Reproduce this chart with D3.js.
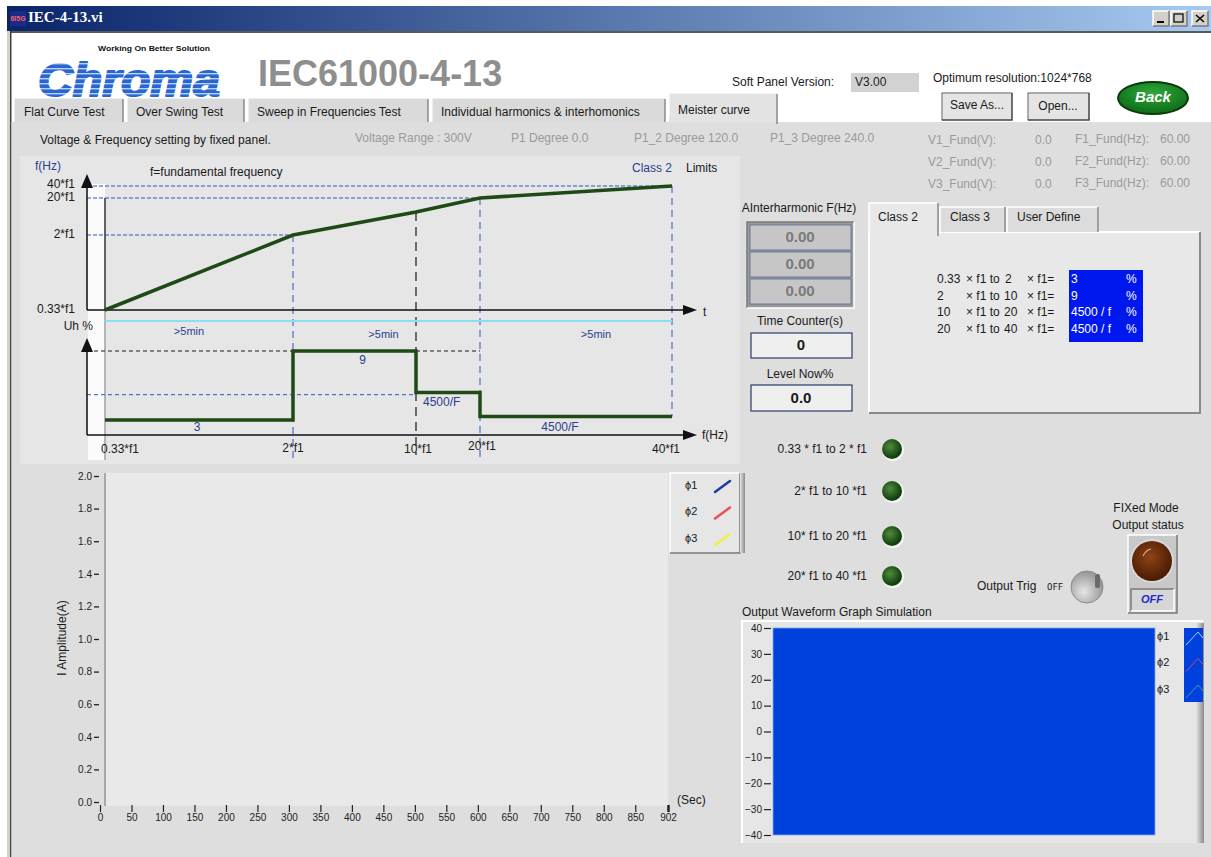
<!DOCTYPE html>
<html><head><meta charset="utf-8">
<script src="https://cdn.jsdelivr.net/npm/d3@7/dist/d3.min.js"></script>
<style>
body{margin:0;background:#fff;overflow:hidden}
svg{display:block;font-family:"Liberation Sans",Arial,sans-serif}
</style></head><body>
<svg id="c" width="1211" height="857"></svg>
<script>
// ---------------- data ----------------
const freqMultiples = [0.33, 2, 10, 20, 40];
const freqLabels = ["0.33*f1", "2*f1", "10*f1", "20*f1", "40*f1"];
const sweepCurve = [0.33, 2, 10, 20, 40];               // f reached at each breakpoint
const uhLevels = [3, 9, 5.4, 3.3];                      // Uh % per band (schematic)
const uhLabels = ["3", "9", "4500/F", "4500/F"];
const uhRefLevel = 5.2;                                 // blue dashed reference
const durationLabels = [">5min", ">5min", ">5min"];
const mainTabs = ["Flat Curve Test", "Over Swing Test", "Sweep in Frequencies Test", "Individual harmonics & interhomonics", "Meister curve"];
const classTabs = ["Class 2", "Class 3", "User Define"];
const classFrom = ["0.33", "2", "10", "20"];
const classTo = ["2", "10", "20", "40"];
const classValues = ["3", "9", "4500 / f", "4500 / f"];
const ledLabels = ["0.33 * f1 to 2 * f1", "2* f1 to 10 *f1", "10* f1 to 20 *f1", "20* f1 to 40 *f1"];
const interharmonic = ["0.00", "0.00", "0.00"];
const statusTop = ["Voltage Range : 300V", "P1 Degree  0.0", "P1_2 Degree 120.0", "P1_3 Degree 240.0"];
const fundV = [["V1_Fund(V):", "0.0"], ["V2_Fund(V):", "0.0"], ["V3_Fund(V):", "0.0"]];
const fundF = [["F1_Fund(Hz):", "60.00"], ["F2_Fund(Hz):", "60.00"], ["F3_Fund(Hz):", "60.00"]];
const ampTicks = [0, 0.2, 0.4, 0.6, 0.8, 1.0, 1.2, 1.4, 1.6, 1.8, 2.0];
const secTicks = [0, 50, 100, 150, 200, 250, 300, 350, 400, 450, 500, 550, 600, 650, 700, 750, 800, 850, 902];
const waveTicks = [-40, -30, -20, -10, 0, 10, 20, 30, 40];
const phaseNames = ["ϕ1", "ϕ2", "ϕ3"];
const phaseColors = ["#1c3c9c", "#e8505a", "#f2f040"];
const waveColors = ["#9fd8ff", "#c04a8a", "#2aa8a0"];

// ---------------- setup ----------------
const svg = d3.select("#c");
const defs = svg.append("defs");
const FONT = '"Liberation Sans",Arial,sans-serif';

function txt(g, x, y, s, o = {}) {
  return g.append("text").attr("x", x).attr("y", y).text(s)
    .attr("font-size", o.size || 12).attr("fill", o.fill || "#1a1a1a")
    .attr("text-anchor", o.anchor || "start")
    .attr("dominant-baseline", o.base || "middle")
    .attr("font-weight", o.weight || "normal")
    .attr("font-style", o.style || "normal")
    .attr("font-family", o.family || FONT);
}
function bevel(g, x, y, w, h, raised, fill) {
  g.append("rect").attr("x", x).attr("y", y).attr("width", w).attr("height", h).attr("fill", fill);
  const lt = raised ? "#ffffff" : "#7a7a7a", dk = raised ? "#7a7a7a" : "#ffffff";
  g.append("path").attr("d", `M${x},${y + h}V${y}H${x + w}`).attr("stroke", lt).attr("fill", "none").attr("stroke-width", 1.5);
  g.append("path").attr("d", `M${x + w},${y}V${y + h}H${x}`).attr("stroke", dk).attr("fill", "none").attr("stroke-width", 1.5);
}

// gradients
const tg = defs.append("linearGradient").attr("id", "titleg");
tg.append("stop").attr("offset", "0%").attr("stop-color", "#0a246a");
tg.append("stop").attr("offset", "100%").attr("stop-color", "#a6caf0");
const ledg = defs.append("radialGradient").attr("id", "ledg").attr("cx", "40%").attr("cy", "38%").attr("r", "60%");
ledg.append("stop").attr("offset", "0%").attr("stop-color", "#4f8c3c");
ledg.append("stop").attr("offset", "100%").attr("stop-color", "#0e3a0c");
const knobg = defs.append("radialGradient").attr("id", "knobg").attr("cx", "45%").attr("cy", "40%").attr("r", "60%");
knobg.append("stop").attr("offset", "0%").attr("stop-color", "#8c4416");
knobg.append("stop").attr("offset", "100%").attr("stop-color", "#4a1a04");
const backg = defs.append("radialGradient").attr("id", "backg").attr("cx", "50%").attr("cy", "35%").attr("r", "65%");
backg.append("stop").attr("offset", "0%").attr("stop-color", "#2fa83a");
backg.append("stop").attr("offset", "100%").attr("stop-color", "#0d6a18");
const tog = defs.append("radialGradient").attr("id", "tog").attr("cx", "40%").attr("cy", "65%").attr("r", "60%");
tog.append("stop").attr("offset", "0%").attr("stop-color", "#e6e6e6");
tog.append("stop").attr("offset", "100%").attr("stop-color", "#9a9a9a");
const stripe = defs.append("pattern").attr("id", "stripe").attr("patternUnits", "userSpaceOnUse").attr("width", 10).attr("height", 5);
stripe.append("rect").attr("width", 10).attr("height", 5).attr("fill", "#2a66d0");
stripe.append("rect").attr("y", 3).attr("width", 10).attr("height", 1.4).attr("fill", "#b8d2f6");
const shadeR = defs.append("linearGradient").attr("id", "shadeR");
shadeR.append("stop").attr("offset", "0%").attr("stop-color", "#e6e6e6");
shadeR.append("stop").attr("offset", "100%").attr("stop-color", "#8a8a8a");

// ---------------- window chrome ----------------
svg.append("rect").attr("x", 0).attr("y", 0).attr("width", 1211).attr("height", 857).attr("fill", "#ffffff");
svg.append("rect").attr("x", 7).attr("y", 6).attr("width", 1204).attr("height", 25).attr("fill", "url(#titleg)");
const ico = svg.append("g");
ico.append("rect").attr("x", 10).attr("y", 11).attr("width", 16).attr("height", 15).attr("fill", "#1c2a8a");
txt(ico, 18, 19, "6I5G", { size: 7, fill: "#ff6060", anchor: "middle", weight: "bold" });
txt(svg, 28, 19, "IEC-4-13.vi", { size: 15, fill: "#ffffff", weight: "bold", family: '"Liberation Serif","DejaVu Serif",serif' });
["min", "max", "close"].forEach((k, i) => {
  const bx = 1153 + i * 18 + (i === 2 ? 3 : 0);
  bevel(svg, bx, 11, 16, 15, true, "#d4d0c8");
  if (k === "min") svg.append("rect").attr("x", bx + 4).attr("y", 21).attr("width", 7).attr("height", 2).attr("fill", "#000");
  if (k === "max") svg.append("rect").attr("x", bx + 3).attr("y", 14).attr("width", 9).attr("height", 8).attr("fill", "none").attr("stroke", "#000").attr("stroke-width", 1.2);
  if (k === "close") svg.append("path").attr("d", `M${bx + 4},${15}L${bx + 12},${22}M${bx + 12},${15}L${bx + 4},${22}`).attr("stroke", "#000").attr("stroke-width", 1.5);
});
svg.append("rect").attr("x", 7).attr("y", 31).attr("width", 1204).attr("height", 2).attr("fill", "#5a5a5a");
svg.append("rect").attr("x", 7).attr("y", 31).attr("width", 4).attr("height", 826).attr("fill", "#d4d0c8");
svg.append("rect").attr("x", 10).attr("y", 31).attr("width", 1.5).attr("height", 826).attr("fill", "#404040");

// ---------------- header ----------------
const hdr = svg.append("g");
txt(hdr, 38, 95.5, "Chroma", { size: 46, weight: "bold", style: "italic", fill: "url(#stripe)", base: "alphabetic", family: '"Liberation Sans",Arial,sans-serif' })
  .attr("textLength", 182).attr("lengthAdjust", "spacingAndGlyphs")
  .attr("stroke", "url(#stripe)").attr("stroke-width", 2).attr("stroke-linejoin", "round");
txt(hdr, 98, 49, "Working On Better Solution", { size: 8, weight: "bold", fill: "#111" })
  .attr("textLength", 112).attr("lengthAdjust", "spacingAndGlyphs");
txt(hdr, 258, 76, "IEC61000-4-13", { size: 36, weight: "bold", fill: "#8e8e8e" });
txt(hdr, 732, 83, "Soft Panel Version:", { size: 12 });
hdr.append("rect").attr("x", 851).attr("y", 73).attr("width", 68).attr("height", 19).attr("fill", "#d2d2d2");
txt(hdr, 855, 83, "V3.00", { size: 12 });
txt(hdr, 933, 79, "Optimum resolution:1024*768", { size: 12 });
bevel(hdr, 942, 93, 70, 27, true, "#e4e4e4");
hdr.append("rect").attr("x", 942).attr("y", 93).attr("width", 70).attr("height", 27).attr("fill", "none").attr("stroke", "#333").attr("stroke-width", 0.8);
txt(hdr, 977, 106, "Save As...", { size: 12, anchor: "middle" });
bevel(hdr, 1028, 93, 61, 27, true, "#e4e4e4");
hdr.append("rect").attr("x", 1028).attr("y", 93).attr("width", 61).attr("height", 27).attr("fill", "none").attr("stroke", "#333").attr("stroke-width", 0.8);
txt(hdr, 1058, 107, "Open...", { size: 12, anchor: "middle" });
hdr.append("ellipse").attr("cx", 1153).attr("cy", 98).attr("rx", 35).attr("ry", 16).attr("fill", "url(#backg)").attr("stroke", "#0a3a0a").attr("stroke-width", 2);
txt(hdr, 1153, 98, "Back", { size: 15, weight: "bold", style: "italic", fill: "#ffffff", anchor: "middle" });

// ---------------- main panel ----------------
svg.append("rect").attr("x", 11.5).attr("y", 122).attr("width", 1200).attr("height", 735).attr("fill", "#dedede");

// tabs
const tabX = [14, 127, 248, 432, 669, 777];
mainTabs.forEach((t, i) => {
  const active = i === mainTabs.length - 1;
  const x0 = tabX[i], x1 = tabX[i + 1] - (active ? 0 : 4);
  const y0 = active ? 93 : 98;
  svg.append("rect").attr("x", x0).attr("y", y0).attr("width", x1 - x0).attr("height", (active ? 30 : 24)).attr("fill", active ? "#e3e3e3" : "#dadada");
  svg.append("path").attr("d", `M${x0},${y0 + 24}V${y0}H${x1}`).attr("stroke", "#ffffff").attr("fill", "none");
  svg.append("path").attr("d", `M${x1},${y0 + 1}V${active ? 124 : 122}`).attr("stroke", "#8a8a8a").attr("fill", "none").attr("stroke-width", 1.5);
  txt(svg, x0 + (i === 0 ? 10 : 9), (active ? 111 : 112.5), t, { size: 12 });
});

// status line
txt(svg, 40, 141, "Voltage & Frequency setting by fixed panel.", { size: 12 });
const stX = [355, 511, 634, 770];
statusTop.forEach((s, i) => txt(svg, stX[i], 139, s, { size: 12, fill: "#9a9a9a" }));
fundV.forEach((r, i) => {
  txt(svg, 928, 141 + i * 22, r[0], { size: 12, fill: "#9a9a9a" });
  txt(svg, 1035, 141 + i * 22, r[1], { size: 12, fill: "#9a9a9a" });
});
fundF.forEach((r, i) => {
  txt(svg, 1075, 140 + i * 22, r[0], { size: 12, fill: "#9a9a9a" });
  txt(svg, 1160, 140 + i * 22, r[1], { size: 12, fill: "#9a9a9a" });
});

// ---------------- Meister curve diagram ----------------
const dg = svg.append("g");
dg.append("rect").attr("x", 20).attr("y", 156).attr("width", 720).attr("height", 308).attr("fill", "#e6e6e6");
const x = d3.scaleLinear().domain(freqMultiples).range([105, 293, 416, 480, 672]);
const yF = d3.scaleLinear().domain(freqMultiples).range([310, 235, 212, 198, 186]);
const yU = d3.scaleLinear().domain([0, 9]).range([454.5, 351]);
const axX = 87, tAxisY = yF(0.33), fAxisY = 435;

dg.append("rect").attr("x", axX + 1).attr("y", 184).attr("width", x(0.33) - axX - 1).attr("height", 276).attr("fill", "#fbfbfb");

const blueDash = "#2a56c0", blackDash = "#1a1a1a";
function hline(y, x0, x1, c, dash) { dg.append("line").attr("x1", x0).attr("x2", x1).attr("y1", y).attr("y2", y).attr("stroke", c).attr("stroke-width", 1).attr("stroke-dasharray", dash); }
function vline(xx, y0, y1, c, dash, w) { dg.append("line").attr("x1", xx).attr("x2", xx).attr("y1", y0).attr("y2", y1).attr("stroke", c).attr("stroke-width", w || 1).attr("stroke-dasharray", dash); }

// reference lines (top)
hline(yF(40), axX, x(40), blueDash, "4,2");
hline(yF(20), axX, x(20), blueDash, "4,2");
hline(yF(2), axX, x(2), blueDash, "4,2");
// vertical refs
vline(x(0.33), yF(20), tAxisY, "#333", null, 1.5);
vline(x(0.33), tAxisY, 460, "#a0a0a0", null, 1.5);
vline(x(2), yF(2), 460, blueDash, "7,5");
vline(x(10), yF(10), 455, blackDash, "9,6", 1.2);
vline(x(20), yF(20), 460, blueDash, "7,5");
vline(x(40), yF(40), yU(uhLevels[3]), blueDash, "7,5");

// cyan duration line
dg.append("line").attr("x1", x(0.33)).attr("x2", x(40)).attr("y1", 321).attr("y2", 321).attr("stroke", "#86e2f0").attr("stroke-width", 1.8);
const segEdges = [0.33, 2, 20, 40];
durationLabels.forEach((s, i) => {
  const cx = (x(segEdges[i]) + x(segEdges[i + 1])) / 2 + [-10, -3, 20][i];
  txt(dg, cx, 332 + (i ? 3 : 0), s, { size: 11, fill: "#2b3f8f", anchor: "middle" });
});

// lower reference lines
hline(yU(9), axX, x(2), blackDash, "4,3");
hline(yU(9), x(10), x(20), blackDash, "4,3");
hline(yU(uhRefLevel), axX, x(10), blueDash, "4,3");

// axes
function arrowUp(xx, ytip) { dg.append("path").attr("d", `M${xx},${ytip}L${xx - 6},${ytip + 14}L${xx + 6},${ytip + 14}Z`).attr("fill", "#111"); }
function arrowRight(xtip, yy) { dg.append("path").attr("d", `M${xtip},${yy}L${xtip - 14},${yy - 5}L${xtip - 14},${yy + 5}Z`).attr("fill", "#111"); }
dg.append("line").attr("x1", axX).attr("x2", axX).attr("y1", 176).attr("y2", tAxisY).attr("stroke", "#111").attr("stroke-width", 1.5);
dg.append("line").attr("x1", axX).attr("x2", 690).attr("y1", tAxisY).attr("y2", tAxisY).attr("stroke", "#111").attr("stroke-width", 1.5);
arrowUp(axX, 174); arrowRight(697, tAxisY);
dg.append("line").attr("x1", axX).attr("x2", axX).attr("y1", 340).attr("y2", fAxisY).attr("stroke", "#111").attr("stroke-width", 1.5);
dg.append("line").attr("x1", axX).attr("x2", 690).attr("y1", fAxisY).attr("y2", fAxisY).attr("stroke", "#111").attr("stroke-width", 1.5);
arrowUp(axX, 338); arrowRight(697, fAxisY);

// curves
dg.append("path").datum(sweepCurve)
  .attr("d", d3.line().x(f => x(f)).y(f => yF(f)))
  .attr("fill", "none").attr("stroke", "#1f4a15").attr("stroke-width", 3.5);
const stepPts = [];
uhLevels.forEach((v, i) => { stepPts.push([x(freqMultiples[i]), yU(v)]); stepPts.push([x(freqMultiples[i + 1]), yU(v)]); });
dg.append("path").datum(stepPts).attr("d", d3.line()).attr("fill", "none").attr("stroke", "#1f4a15").attr("stroke-width", 3.5);

// labels
txt(dg, 35, 167, "f(Hz)", { size: 12, fill: "#2b3f8f" });
txt(dg, 150, 173, "f=fundamental frequency", { size: 12 });
txt(dg, 672, 169, "Class 2", { size: 12, fill: "#2b3f8f", anchor: "end" });
txt(dg, 686, 169, "Limits", { size: 12 });
[40, 20, 2, 0.33].forEach(f => {
  const i = freqMultiples.indexOf(f);
  txt(dg, 75, yF(f) + (f === 40 ? -1 : 0), freqLabels[i], { size: 12, anchor: "end" });
});
txt(dg, 703, 313, "t", { size: 12 });
txt(dg, 93, 327, "Uh %", { size: 12, anchor: "end" });
txt(dg, 702, 436, "f(Hz)", { size: 12 });
freqMultiples.forEach((f, i) => {
  const off = [15, 0, 2, 2, -6][i], dy = [0, -1, 0, -3, 0][i];
  txt(dg, x(f) + off, 450 + dy, freqLabels[i], { size: 12, anchor: "middle" });
});
// band labels
const bandLabelPos = [
  [(x(0.33) + x(2)) / 2 - 2, 428, "middle"],
  [(x(2) + x(10)) / 2 + 8, 361, "middle"],
  [x(10) + 7, 403, "start"],
  [(x(20) + x(40)) / 2 - 16, 428, "middle"]
];
uhLabels.forEach((s, i) => txt(dg, bandLabelPos[i][0], bandLabelPos[i][1], s, { size: 12, fill: "#2b3f8f", anchor: bandLabelPos[i][2] }));

// ---------------- interharmonic indicators ----------------
const ih = svg.append("g");
txt(ih, 799, 209, "AInterharmonic F(Hz)", { size: 12, anchor: "middle" });
bevel(ih, 747, 222, 107, 86, false, "#9a9a9a");
interharmonic.forEach((v, i) => {
  ih.append("rect").attr("x", 750).attr("y", 225 + i * 27).attr("width", 101).attr("height", 25).attr("fill", "#c6c6c6").attr("stroke", "#5a6a9a").attr("stroke-width", 0.8);
  txt(ih, 800, 238 + i * 27, v, { size: 15, weight: "bold", fill: "#7a7a7a", anchor: "middle" });
});
txt(ih, 800, 322, "Time Counter(s)", { size: 12, anchor: "middle" });
ih.append("rect").attr("x", 751).attr("y", 333).attr("width", 101).attr("height", 25).attr("fill", "#efefef").attr("stroke", "#2a3a6a").attr("stroke-width", 1.2);
txt(ih, 801, 346, "0", { size: 15, weight: "bold", anchor: "middle" });
txt(ih, 800, 375, "Level  Now%", { size: 12, anchor: "middle" });
ih.append("rect").attr("x", 751).attr("y", 385).attr("width", 101).attr("height", 26).attr("fill", "#efefef").attr("stroke", "#2a3a6a").attr("stroke-width", 1.2);
txt(ih, 801, 399, "0.0", { size: 15, weight: "bold", anchor: "middle" });

// ---------------- class tab control ----------------
const tc = svg.append("g");
tc.append("rect").attr("x", 869).attr("y", 232).attr("width", 331).attr("height", 181).attr("fill", "#e8e8e8");
tc.append("path").attr("d", "M869,413V232H1200").attr("stroke", "#ffffff").attr("stroke-width", 2).attr("fill", "none");
tc.append("path").attr("d", "M1200,232V413H869").attr("stroke", "#8a8a8a").attr("stroke-width", 2).attr("fill", "none");
const ctX = [869, 940, 1007, 1100];
classTabs.forEach((t, i) => {
  const x0 = ctX[i], x1 = ctX[i + 1] - 2, y0 = i === 0 ? 203 : 207;
  tc.append("rect").attr("x", x0).attr("y", y0).attr("width", x1 - x0).attr("height", i === 0 ? 31 : 25).attr("fill", i === 0 ? "#e8e8e8" : "#dcdcdc");
  tc.append("path").attr("d", `M${x0},${i === 0 ? 234 : 232}V${y0}H${x1}`).attr("stroke", "#fff").attr("fill", "none").attr("stroke-width", 1.5);
  tc.append("path").attr("d", `M${x1},${y0}V${i === 0 ? 236 : 232}`).attr("stroke", "#8a8a8a").attr("fill", "none").attr("stroke-width", 1.5);
  txt(tc, x0 + (i === 0 ? 9 : 10), 218, t, { size: 12 });
});
tc.append("rect").attr("x", 1069).attr("y", 270).attr("width", 74).attr("height", 72).attr("fill", "#0018f0");
classFrom.forEach((f, i) => {
  const yy = 280 + i * 16.5;
  txt(tc, 937, yy, f, { size: 12 });
  txt(tc, 966, yy, "× f1 to", { size: 12 });
  txt(tc, i === 0 ? 1005 : 1004, yy, classTo[i], { size: 12 });
  txt(tc, 1027, yy, "× f1=", { size: 12 });
  txt(tc, 1071, yy, classValues[i], { size: 12, fill: "#ffffff" });
  txt(tc, 1126, yy, "%", { size: 12, fill: "#ffffff" });
});

// ---------------- LEDs ----------------
const ledY = [449, 491, 536, 576];
ledLabels.forEach((s, i) => {
  txt(svg, 867, ledY[i] + 1, s, { size: 12, anchor: "end" });
  svg.append("circle").attr("cx", 893).attr("cy", ledY[i] + 1).attr("r", 11).attr("fill", "#f4f4f4");
  svg.append("circle").attr("cx", 892).attr("cy", ledY[i]).attr("r", 10).attr("fill", "url(#ledg)");
});

// ---------------- output status / trig ----------------
txt(svg, 1146, 509, "FIXed Mode", { size: 12, anchor: "middle" });
txt(svg, 1148, 526, "Output status", { size: 12, anchor: "middle" });
bevel(svg, 1128, 535, 49, 78, true, "#c8c8c8");
svg.append("circle").attr("cx", 1152).attr("cy", 561).attr("r", 22).attr("fill", "#d8d8d8");
svg.append("circle").attr("cx", 1152).attr("cy", 561).attr("r", 20).attr("fill", "url(#knobg)");
svg.append("path").attr("d", "M1143,556Q1146,550 1151,549").attr("stroke", "#e0b080").attr("stroke-width", 1.2).attr("fill", "none");
bevel(svg, 1131, 589, 43, 22, false, "#d6d6d6");
txt(svg, 1152, 600, "OFF", { size: 11, weight: "bold", style: "italic", fill: "#1a2ad0", anchor: "middle" });
txt(svg, 977, 587, "Output Trig", { size: 12 });
txt(svg, 1047, 587, "OFF", { size: 9, family: '"DejaVu Sans Mono",monospace' });
svg.append("circle").attr("cx", 1087).attr("cy", 587).attr("r", 16).attr("fill", "url(#tog)").attr("stroke", "#8a8a8a").attr("stroke-width", 1);
svg.append("rect").attr("x", 1095).attr("y", 574).attr("width", 5).attr("height", 14).attr("rx", 2).attr("fill", "#6a6a6a");

// ---------------- current amplitude chart ----------------
const ac = svg.append("g");
const ax = d3.scaleLinear().domain([0, 902]).range([100, 668]);
const ay = d3.scaleLinear().domain([0, 2]).range([802, 476]);
ac.append("rect").attr("x", 105).attr("y", 473).attr("width", 563).attr("height", 333).attr("fill", "#e9e9e9");
ac.append("line").attr("x1", 105).attr("x2", 105).attr("y1", 473).attr("y2", 806).attr("stroke", "#a8a8a8").attr("stroke-width", 2);
const yAx = ac.append("g").attr("transform", "translate(100,0)")
  .call(d3.axisLeft(ay).tickValues(ampTicks).tickFormat(d3.format(".1f")).tickSize(6).tickPadding(2));
yAx.select(".domain").remove();
yAx.selectAll(".tick line").attr("stroke", "#222").attr("stroke-width", 1.3).attr("x1", -1);
yAx.selectAll("text").attr("font-size", 10).attr("fill", "#222").attr("font-family", FONT);
const xAx = ac.append("g").attr("transform", "translate(0,805)")
  .call(d3.axisBottom(ax).tickValues(secTicks).tickFormat(d3.format("d")).tickSize(7).tickPadding(2));
xAx.select(".domain").remove();
xAx.selectAll(".tick line").attr("stroke", "#222").attr("stroke-width", 1.2);
xAx.selectAll("text").attr("font-size", 10).attr("fill", "#222").attr("font-family", FONT);
xAx.selectAll(".tick").filter(d => d === 902).select("line").attr("stroke-width", 2.5);
txt(ac, 677, 801, "(Sec)", { size: 12 });
txt(ac, 0, 0, "I  Amplitude(A)", { size: 12, anchor: "middle" }).attr("transform", "translate(63,638) rotate(-90)");
// legend
bevel(ac, 670, 473, 70, 80, true, "#e6e6e6");
ac.append("rect").attr("x", 740).attr("y", 473).attr("width", 5).attr("height", 80).attr("fill", "url(#shadeR)");
phaseNames.forEach((p, i) => {
  const yy = 486 + i * 26.5;
  txt(ac, 685, yy, p, { size: 11 });
  ac.append("line").attr("x1", 715).attr("y1", yy + 6).attr("x2", 730).attr("y2", yy - 5).attr("stroke", phaseColors[i]).attr("stroke-width", 2.5).attr("stroke-linecap", "round");
});

// ---------------- output waveform graph ----------------
const wg = svg.append("g");
txt(wg, 742, 613, "Output Waveform Graph Simulation", { size: 12 });
wg.append("rect").attr("x", 742).attr("y", 621).attr("width", 461).attr("height", 222).attr("fill", "#e6e6e6");
wg.append("path").attr("d", "M742,843V621H1203").attr("stroke", "#ffffff").attr("stroke-width", 2).attr("fill", "none");
wg.append("rect").attr("x", 1196).attr("y", 623).attr("width", 8).attr("height", 220).attr("fill", "url(#shadeR)");
const wy = d3.scaleLinear().domain([-40, 40]).range([835, 628]);
wg.append("rect").attr("x", 773).attr("y", wy(40)).attr("width", 382).attr("height", wy(-40) - wy(40)).attr("fill", "#0040dc").attr("stroke", "#7fa8f0").attr("stroke-width", 0.8);
const wAx = wg.append("g").attr("transform", "translate(771,0)")
  .call(d3.axisLeft(wy).tickValues(waveTicks).tickSize(7).tickPadding(2));
wAx.select(".domain").remove();
wAx.selectAll(".tick line").attr("stroke", "#222").attr("stroke-width", 1.2);
wAx.selectAll("text").attr("font-size", 10).attr("fill", "#222").attr("font-family", FONT);
wg.append("rect").attr("x", 1184).attr("y", 628).attr("width", 19).attr("height", 74).attr("fill", "#0040dc");
phaseNames.forEach((p, i) => {
  const yy = 637 + i * 26.5;
  txt(wg, 1157, yy, p, { size: 11 });
  wg.append("path").attr("d", `M${1186},${yy + 8}L${1198},${yy - 5}L${1203},${yy + 1}`).attr("stroke", waveColors[i]).attr("stroke-width", 1).attr("fill", "none");
});
</script>
</body></html>
